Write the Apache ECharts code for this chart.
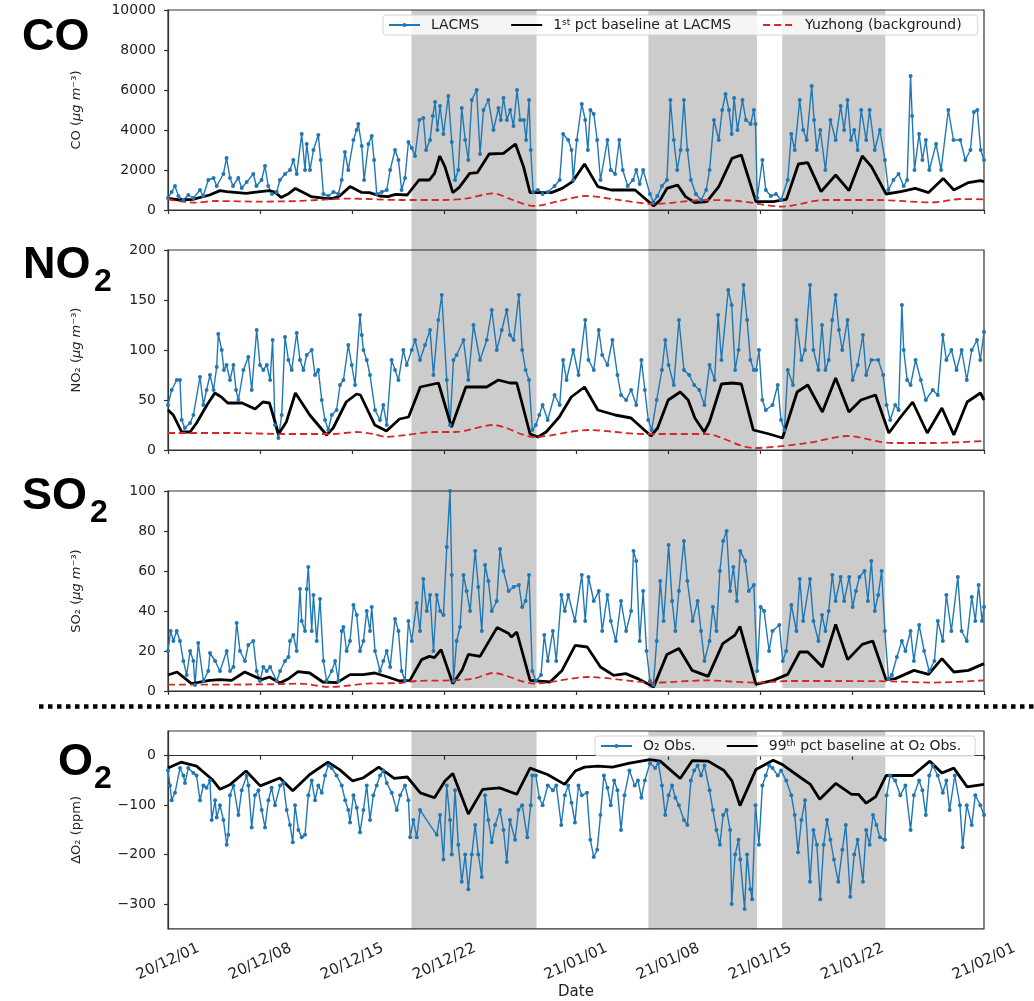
<!DOCTYPE html>
<html>
<head>
<meta charset="utf-8">
<script src="https://cdn.jsdelivr.net/npm/echarts@6/dist/echarts.min.js"></script>
<style>
  html, body { margin: 0; padding: 0; background: #fff; }
  #chart { width: 1034px; height: 1001px; }
</style>
</head>
<body>
<div id="chart"></div>
<script>
// Time is expressed in days since 2020-12-01 00:00 (UTC).
const START = Date.UTC(2020, 11, 1);
const tickDates = ['2020-12-01', '2020-12-08', '2020-12-15', '2020-12-22',
  '2021-01-01', '2021-01-08', '2021-01-15', '2021-01-22', '2021-02-01'];
const shadedPeriods = [
  ['2020-12-19T12:00Z', '2020-12-29T00:00Z'],
  ['2021-01-06T12:00Z', '2021-01-14T18:00Z'],
  ['2021-01-16T16:00Z', '2021-01-24T12:00Z']
];

// ---- CO (ug m-3) ----
const coObs = [[0,600],[0.28,900],[0.53,1200],[0.79,700],[1.17,500],[1.54,750],[1.93,600],[2.43,1000],[2.67,700],[3.06,1500],[3.46,1600],[3.7,1200],[4.21,1800],[4.45,2600],[4.71,1600],[4.94,1200],[5.34,1600],[5.6,1100],[5.98,1400],[6.48,1800],[6.72,1200],[7.11,1500],[7.37,2200],[7.61,1200],[7.9,800],[8.26,900],[8.5,1500],[8.89,1800],[9.27,2000],[9.52,2500],[9.78,1800],[10.16,3800],[10.41,2000],[10.54,3300],[10.79,2000],[11.05,3000],[11.42,3750],[11.6,2500],[11.81,800],[12.18,700],[12.57,900],[12.94,800],[13.2,1500],[13.44,2900],[13.7,2000],[14.09,3500],[14.33,4000],[14.46,4300],[14.72,3200],[14.9,1500],[15.23,3300],[15.48,3700],[15.66,2500],[15.86,800],[16.24,900],[16.62,1000],[16.88,2000],[17.25,3000],[17.51,2500],[17.75,1000],[18.01,1600],[18.27,3400],[18.52,3100],[18.77,2700],[19.1,4500],[19.4,4600],[19.61,3000],[19.91,3500],[20.12,4700],[20.29,5400],[20.47,4000],[20.67,5200],[20.93,3800],[21.3,5700],[21.56,3400],[21.81,1500],[22.06,2000],[22.32,5100],[22.58,3500],[22.82,2500],[23.08,5500],[23.45,6000],[23.71,2800],[23.97,5000],[24.34,5500],[24.73,4000],[25.11,5100],[25.29,4500],[25.49,5600],[25.75,4500],[26.0,5000],[26.25,4200],[26.52,6000],[26.76,4500],[27.04,4500],[27.21,3500],[27.43,5500],[27.56,3000],[27.75,900],[28.1,1000],[28.46,800],[28.86,900],[29.37,1200],[29.76,1500],[30.02,3800],[30.41,3500],[30.66,3000],[30.79,1500],[31.06,3500],[31.44,5300],[31.7,4500],[31.9,3000],[32.09,5000],[32.35,4800],[32.61,3500],[32.86,1500],[33.39,3500],[33.64,2000],[33.97,1800],[34.29,3500],[34.55,2000],[34.93,1200],[35.33,1500],[35.58,2000],[35.84,1300],[36.1,2000],[36.62,800],[36.88,400],[37.18,700],[37.53,1200],[37.91,1500],[38.17,5500],[38.43,3500],[38.69,2000],[38.95,3000],[39.2,5500],[39.46,3000],[39.73,1500],[40.11,800],[40.5,500],[40.89,1000],[41.15,2000],[41.48,4500],[41.85,3500],[42.11,5000],[42.36,5800],[42.62,5000],[42.83,3800],[43.01,5600],[43.27,4000],[43.65,5500],[43.91,4500],[44.27,4300],[44.51,5000],[44.64,4300],[44.77,600],[45.16,2500],[45.42,1000],[45.8,700],[46.2,800],[46.58,500],[47.09,1500],[47.36,3800],[47.62,3000],[48.0,5500],[48.26,4000],[48.53,3500],[48.91,6200],[49.09,4500],[49.3,3000],[49.56,4000],[49.95,2000],[50.33,4500],[50.73,3500],[51.11,5200],[51.37,4000],[51.63,5500],[51.89,3500],[52.14,4000],[52.4,3000],[52.67,5000],[53.05,3500],[53.31,5000],[53.7,3000],[54.09,4000],[54.47,2500],[54.74,1000],[55.12,1500],[55.51,1800],[55.9,1200],[56.16,1500],[56.42,6700],[56.54,4700],[56.72,2000],[57.07,3800],[57.32,2500],[57.58,3500],[57.84,2000],[58.36,3300],[58.74,2000],[59.29,5000],[59.68,3500],[60.2,3500],[60.58,2500],[60.97,3000],[61.23,4900],[61.49,5000],[61.75,3000],[62.0,2500]];
const coBase = [[0,580],[0.89,500],[1.88,530],[3.16,750],[3.95,970],[4.45,920],[5.93,830],[7.01,920],[7.71,970],[8.1,900],[8.6,630],[9.19,830],[9.68,1080],[10.28,870],[10.87,670],[11.95,580],[12.55,580],[13.04,700],[13.83,1170],[14.72,880],[15.31,870],[16.1,700],[16.7,670],[17.29,780],[18.18,750],[19.07,1500],[19.86,1500],[20.25,1830],[20.65,2700],[21.04,2170],[21.64,870],[22.13,1130],[22.92,1830],[23.51,1870],[24.4,2800],[25.49,2830],[26.4,3300],[27.01,2170],[27.51,870],[29.13,870],[29.94,1080],[30.74,1420],[31.65,2300],[32.66,1170],[33.67,1000],[35.49,1000],[36.9,200],[37.4,500],[37.91,1080],[38.72,1250],[39.32,670],[40.03,370],[40.94,420],[41.85,1170],[42.85,2580],[43.56,2750],[44.67,420],[45.98,420],[46.99,530],[47.9,2300],[48.61,2370],[49.62,920],[50.73,1750],[51.74,970],[52.75,2700],[53.45,2170],[54.56,800],[55.67,920],[56.78,1080],[57.79,870],[58.9,1580],[59.71,1000],[60.82,1370],[61.73,1470],[62,1420]];
const coBg = [[0,530],[1.98,370],[3.66,450],[6.92,420],[9.88,450],[13.83,570],[15.12,550],[17.59,500],[20.95,500],[22.72,580],[24.7,830],[26.2,500],[27.82,200],[29.73,450],[31.75,700],[34.28,500],[36.9,300],[40.84,500],[43.36,450],[46.69,170],[49.82,500],[53.76,500],[58.1,380],[60.22,550],[62,530]];

// ---- NO2 (ug m-3) ----
const no2Obs = [[0,45],[0.28,60],[0.66,70],[0.91,70],[1.04,30],[1.28,22],[1.68,27],[1.93,35],[2.43,73],[2.69,45],[2.93,60],[3.19,75],[3.46,60],[3.7,83],[3.82,116],[4.08,100],[4.25,80],[4.45,85],[4.71,70],[4.97,85],[5.17,60],[5.35,50],[5.73,80],[6.1,93],[6.36,60],[6.74,120],[6.99,85],[7.24,80],[7.51,85],[7.76,70],[7.95,110],[8.13,25],[8.39,12],[8.64,35],[8.89,113],[9.15,90],[9.4,80],[9.78,117],[10.03,90],[10.29,80],[10.54,95],[10.92,100],[11.17,75],[11.42,80],[11.68,50],[11.93,30],[12.18,20],[12.44,35],[12.81,40],[13.07,65],[13.33,70],[13.7,105],[13.96,85],[14.21,65],[14.59,135],[14.72,115],[14.85,100],[15.1,90],[15.35,75],[15.73,40],[16.11,30],[16.36,45],[16.62,25],[16.99,90],[17.25,80],[17.51,70],[17.88,100],[18.14,85],[18.52,100],[18.77,110],[19.15,90],[19.53,105],[19.91,120],[20.17,75],[20.54,130],[20.8,155],[21.18,70],[21.43,25],[21.69,90],[21.93,95],[22.45,110],[22.82,70],[23.21,125],[23.71,90],[24.22,110],[24.6,140],[24.98,100],[25.36,120],[25.74,140],[25.98,115],[26.26,110],[26.66,155],[26.91,100],[27.17,80],[27.43,70],[27.68,20],[27.95,25],[28.21,35],[28.46,45],[28.85,30],[29.37,55],[29.76,45],[30.02,90],[30.28,70],[30.79,100],[31.19,75],[31.7,130],[31.95,90],[32.35,80],[32.73,120],[32.99,95],[33.39,85],[33.77,110],[34.15,75],[34.42,55],[34.81,50],[35.19,60],[35.58,45],[35.97,90],[36.23,60],[36.49,30],[36.75,20],[37.13,50],[37.53,80],[37.78,110],[38.04,85],[38.43,65],[38.82,130],[39.2,80],[39.6,75],[39.98,65],[40.37,60],[40.76,45],[41.15,85],[41.53,70],[41.8,135],[42.05,90],[42.57,160],[42.83,145],[43.09,80],[43.35,100],[43.73,165],[44.0,130],[44.25,90],[44.51,80],[44.69,80],[44.9,100],[45.16,50],[45.42,40],[45.93,45],[46.33,65],[46.58,30],[46.84,20],[47.09,80],[47.49,65],[47.75,130],[48.13,90],[48.4,100],[48.78,165],[49.04,100],[49.42,80],[49.69,125],[49.95,80],[50.2,90],[50.47,130],[50.72,155],[50.98,120],[51.23,100],[51.63,130],[52.02,70],[52.4,85],[52.8,115],[53.05,75],[53.44,90],[53.96,90],[54.34,75],[54.6,45],[54.87,30],[55.25,45],[55.51,40],[55.76,145],[55.9,100],[56.16,70],[56.42,65],[56.8,90],[57.2,70],[57.58,50],[58.1,60],[58.49,55],[58.87,115],[59.14,90],[59.52,100],[59.91,80],[60.3,100],[60.69,70],[61.07,100],[61.47,110],[61.72,90],[62.0,118]];
const no2Base = [[0,40],[0.4,35],[1.04,18],[1.68,18],[2.17,27],[2.96,45],[3.56,57],[4.05,53],[4.54,47],[5.63,47],[6.62,41],[7.21,48],[7.71,47],[8.4,16],[8.99,28],[9.68,57],[10.77,35],[12.05,15],[12.55,22],[13.54,48],[14.33,56],[14.62,55],[15.71,25],[16.6,19],[17.59,31],[18.28,33],[19.17,63],[20.55,67],[21.54,23],[22.63,63],[24.21,63],[25.1,70],[25.98,67],[26.5,67],[27.51,16],[28.12,13],[28.73,18],[29.73,33],[30.64,53],[31.65,63],[32.66,40],[33.97,35],[35.18,32],[36.7,14],[37.2,22],[38.01,50],[38.92,58],[39.52,50],[40.03,32],[40.74,18],[41.14,28],[42.05,66],[42.85,67],[43.56,66],[44.47,20],[45.68,16],[46.69,12],[47.8,58],[48.61,65],[49.72,38],[50.73,72],[51.74,38],[52.65,50],[53.76,55],[54.77,17],[55.67,33],[56.58,48],[57.69,17],[58.8,42],[59.71,15],[60.72,48],[61.73,57],[62,50]];
const no2Bg = [[0,17],[4.94,17],[8.79,16],[12.55,16],[14.33,18],[15.61,16],[16.6,13],[18.08,15],[20.16,18],[21.83,18],[24.7,25],[27.82,13],[31.95,20],[36.09,16],[40.84,16],[44.47,2],[48.61,7],[51.64,14],[54.97,7],[58.1,7],[62,9]];

// ---- SO2 (ug m-3) ----
const so2Obs = [[0,20],[0.2,30],[0.41,25],[0.66,30],[0.91,25],[1.17,15],[1.42,8],[1.68,20],[1.93,15],[2.05,3],[2.3,24],[2.69,5],[3.06,10],[3.19,19],[3.58,15],[3.95,10],[4.46,20],[4.71,10],[4.97,12],[5.22,34],[5.47,20],[5.85,15],[6.1,23],[6.48,25],[6.74,10],[6.99,5],[7.24,12],[7.5,10],[7.76,12],[8.26,5],[8.52,10],[8.89,15],[9.15,17],[9.27,25],[9.52,28],[9.78,20],[10.03,51],[10.16,35],[10.41,30],[10.54,51],[10.66,62],[10.92,30],[11.05,48],[11.3,25],[11.55,46],[11.81,15],[12.05,5],[12.44,10],[12.7,15],[12.94,5],[13.2,30],[13.33,32],[13.57,20],[13.83,25],[14.09,43],[14.34,38],[14.59,20],[14.85,25],[15.1,40],[15.35,30],[15.48,42],[15.73,20],[16.11,10],[16.36,15],[16.62,20],[16.88,12],[17.25,36],[17.51,30],[17.75,10],[18.01,5],[18.27,35],[18.52,25],[18.9,44],[19.15,30],[19.4,56],[19.66,40],[19.91,48],[20.17,20],[20.42,48],[20.67,40],[20.93,38],[21.18,72],[21.43,100],[21.56,58],[21.69,5],[21.93,25],[22.19,32],[22.45,58],[22.69,50],[22.95,40],[23.34,70],[23.58,52],[23.84,30],[24.09,63],[24.34,55],[24.6,40],[24.98,45],[25.23,71],[25.49,60],[25.88,50],[26.26,52],[26.66,53],[26.91,42],[27.17,45],[27.43,58],[27.68,10],[27.95,5],[28.34,8],[28.59,28],[28.86,15],[29.24,30],[29.5,15],[29.89,48],[30.15,40],[30.41,48],[30.92,35],[31.44,58],[31.7,35],[31.95,57],[32.35,45],[32.73,50],[32.99,30],[33.39,48],[33.64,35],[34.03,25],[34.42,45],[34.81,30],[35.19,40],[35.37,70],[35.58,65],[35.84,25],[36.1,50],[36.36,20],[36.62,5],[36.88,3],[37.13,25],[37.4,55],[37.66,35],[38.04,73],[38.3,45],[38.55,30],[38.82,50],[39.2,75],[39.46,55],[39.86,35],[40.24,45],[40.5,30],[40.76,15],[41.15,25],[41.4,42],[41.67,30],[41.93,60],[42.18,75],[42.44,80],[42.71,50],[42.96,62],[43.22,45],[43.48,70],[43.86,65],[44.13,50],[44.51,53],[44.77,10],[45.03,42],[45.29,40],[45.67,20],[45.93,30],[46.45,33],[46.71,15],[46.97,20],[47.36,43],[47.75,30],[48.0,56],[48.26,35],[48.78,56],[49.04,35],[49.42,25],[49.69,38],[49.95,30],[50.2,40],[50.47,58],[50.72,45],[51.11,57],[51.37,45],[51.76,57],[52.02,42],[52.27,50],[52.54,57],[52.92,60],[53.18,45],[53.44,65],[53.7,40],[53.96,48],[54.22,60],[54.47,30],[54.74,6],[55.0,8],[55.38,17],[55.76,25],[56.03,20],[56.42,30],[56.67,15],[57.07,33],[57.45,20],[57.84,10],[58.23,15],[58.49,35],[58.87,25],[59.14,48],[59.52,30],[60.01,57],[60.3,30],[60.69,25],[61.07,47],[61.34,35],[61.59,53],[61.85,35],[62.0,42]];
const so2Base = [[0,8],[0.69,9.5],[1.78,3.7],[3.16,5.3],[3.95,5.7],[4.84,5.3],[5.83,9.5],[7.11,5.7],[7.71,7],[8.5,4],[9.19,6.3],[9.88,9.7],[10.77,9],[11.76,4.5],[12.84,4.2],[13.83,8.2],[14.82,8.2],[15.71,9],[16.7,7],[17.59,5],[18.38,5.3],[19.27,15.7],[19.86,17.3],[20.25,16.7],[20.75,20.7],[21.64,3.7],[22.33,10.3],[22.82,18.3],[23.71,17.3],[25.0,31.7],[25.89,28.7],[26.1,27],[26.5,29.5],[27.51,5.3],[29.03,4.5],[29.94,10.3],[30.94,22.8],[31.85,22],[32.86,12],[33.87,7.8],[34.78,8.7],[35.69,6.2],[36.9,2],[37.91,18.3],[38.82,21.2],[39.83,10.3],[41.04,7.3],[42.15,23.7],[43.06,27.8],[43.46,32.3],[44.67,3.3],[45.98,5.3],[47.09,8.3],[48.0,19.5],[48.61,19.5],[49.72,12],[50.73,33.3],[51.64,15.7],[52.75,23.3],[53.55,25],[54.56,5.7],[55.27,6.2],[56.68,10.3],[57.79,8.3],[58.8,16.2],[59.71,9.5],[60.82,10.3],[62,13.7]];
const so2Bg = [[0,3.2],[7.51,3.3],[9.98,3.7],[12.35,2],[15.12,3.7],[17.59,4],[18.87,5],[21.44,5.3],[23.22,6.2],[24.7,9],[27.82,3.7],[31.95,7],[36.9,4.2],[40.84,5.3],[44.67,4.2],[47.2,5],[51.13,5],[54.97,4.8],[58.1,4.2],[62,5.3]];

// ---- delta O2 (ppm) ----
const o2Obs = [[0,-30],[0.15,-60],[0.28,-90],[0.53,-75],[0.91,-25],[1.17,-40],[1.29,-55],[1.54,-25],[1.93,-35],[2.17,-40],[2.43,-90],[2.69,-60],[2.93,-65],[3.19,-50],[3.32,-130],[3.58,-90],[3.7,-125],[3.95,-100],[4.21,-130],[4.46,-180],[4.58,-160],[4.71,-80],[4.97,-60],[5.35,-120],[5.6,-70],[5.98,-40],[6.11,-60],[6.36,-145],[6.61,-80],[6.87,-70],[7.12,-110],[7.37,-145],[7.63,-90],[7.87,-65],[8.13,-100],[8.52,-60],[8.76,-55],[9.02,-110],[9.27,-140],[9.48,-175],[9.65,-100],[9.91,-150],[10.16,-165],[10.41,-160],[10.66,-80],[10.92,-50],[11.17,-90],[11.42,-60],[11.68,-75],[11.93,-40],[12.18,-20],[12.44,-25],[12.81,-40],[13.2,-60],[13.46,-90],[13.7,-110],[13.83,-135],[14.09,-80],[14.34,-105],[14.59,-155],[14.85,-110],[15.1,-60],[15.35,-130],[15.6,-80],[15.86,-60],[16.11,-40],[16.36,-30],[16.62,-55],[17.0,-75],[17.38,-110],[17.64,-80],[18.01,-60],[18.27,-90],[18.4,-165],[18.64,-130],[18.9,-165],[19.15,-110],[20.42,-160],[20.67,-120],[20.93,-210],[21.18,-60],[21.43,-130],[21.56,-200],[21.81,-70],[22.06,-180],[22.32,-255],[22.58,-200],[22.82,-270],[23.08,-200],[23.34,-140],[23.58,-200],[23.84,-245],[24.09,-80],[24.34,-130],[24.6,-175],[24.85,-140],[25.23,-110],[25.49,-150],[25.74,-215],[25.98,-130],[26.37,-170],[26.63,-110],[26.91,-100],[27.3,-165],[27.56,-100],[27.68,-40],[27.95,-40],[28.21,-85],[28.46,-100],[28.86,-60],[29.24,-70],[29.5,-60],[29.88,-140],[30.15,-80],[30.41,-60],[30.66,-95],[30.92,-135],[31.19,-60],[31.44,-80],[31.83,-75],[32.09,-170],[32.35,-205],[32.61,-190],[32.86,-120],[33.12,-40],[33.39,-65],[33.64,-100],[33.9,-50],[34.15,-70],[34.42,-150],[34.68,-80],[35.06,-30],[35.46,-60],[35.71,-50],[35.97,-85],[36.23,-50],[36.62,-15],[37.01,-25],[37.26,-15],[37.53,-60],[37.78,-120],[38.04,-80],[38.3,-60],[38.55,-85],[38.82,-100],[39.2,-130],[39.46,-140],[39.73,-50],[39.98,-30],[40.24,-20],[40.5,-40],[40.76,-20],[41.15,-70],[41.4,-110],[41.67,-150],[41.93,-180],[42.18,-120],[42.44,-110],[42.71,-150],[42.83,-300],[43.09,-200],[43.35,-170],[43.48,-210],[43.81,-310],[44.0,-200],[44.25,-270],[44.38,-290],[44.64,-100],[44.9,-180],[45.16,-60],[45.42,-40],[45.67,-20],[45.93,-25],[46.33,-40],[46.58,-30],[46.97,-50],[47.36,-80],[47.62,-120],[47.87,-195],[48.13,-130],[48.4,-90],[48.78,-255],[49.04,-150],[49.3,-180],[49.56,-290],[49.82,-180],[50.07,-130],[50.33,-170],[50.6,-210],[50.93,-255],[51.24,-190],[51.5,-140],[51.84,-285],[52.14,-200],[52.4,-170],[52.8,-255],[53.05,-150],[53.31,-180],[53.57,-120],[53.83,-140],[54.09,-165],[54.47,-170],[54.6,-80],[54.87,-40],[55.25,-50],[55.64,-80],[56.03,-60],[56.42,-150],[56.67,-80],[57.07,-50],[57.32,-70],[57.58,-120],[57.84,-40],[58.1,-20],[58.49,-40],[58.87,-75],[59.14,-50],[59.39,-110],[59.78,-40],[60.17,-100],[60.38,-185],[60.69,-100],[61.07,-140],[61.34,-80],[61.72,-100],[62.0,-120]];
const o2Base = [[0,-25],[0.99,-13],[2.17,-21],[3.36,-48],[3.95,-68],[4.74,-58],[5.93,-31],[7.01,-61],[8.5,-45],[9.48,-71],[10.77,-38],[12.15,-13],[13.04,-28],[14.03,-51],[14.82,-45],[16.01,-23],[17.19,-46],[18.18,-43],[19.17,-75],[20.25,-85],[21.04,-51],[21.64,-36],[22.82,-118],[23.91,-68],[25.19,-65],[26.5,-78],[27.51,-25],[28.83,-38],[30.14,-58],[30.94,-31],[31.65,-23],[32.66,-21],[33.77,-23],[35.08,-15],[36.6,-8],[37.4,-11],[38.01,-25],[38.92,-46],[39.83,-10],[41.04,-11],[42.25,-30],[42.85,-51],[43.46,-101],[44.67,-28],[45.98,-9],[46.69,-18],[48.0,-43],[48.81,-58],[49.52,-88],[50.73,-56],[51.94,-78],[52.45,-78],[53.05,-96],[53.76,-83],[54.56,-40],[56.58,-40],[57.89,-11],[58.8,-35],[59.71,-25],[60.72,-63],[62,-58]];

// ---- helpers ----
const DAY = 86400000;
const toDay = s => (Date.parse(s.length === 10 ? s + 'T00:00Z' : s) - START) / DAY;
const tickDays = tickDates.map(toDay);
const shadedDays = shadedPeriods.map(p => [toDay(p[0]), toDay(p[1])]);
const pad = n => (n < 10 ? '0' : '') + n;
const fmtDate = v => {
  const d = new Date(START + v * DAY);
  return pad(d.getUTCFullYear() % 100) + '/' + pad(d.getUTCMonth() + 1) + '/' + pad(d.getUTCDate());
};
const minus = v => String(v).replace('-', '\u2212');

const FONT = 'DejaVu Sans';
const AXIS_COLOR = '#333';
const TEXT_COLOR = '#222';
const BLUE = '#1f77b4';
const X_MAX = 62;

const plotGrids = [
  { top: 10, height: 200 },
  { top: 250, height: 200 },
  { top: 491, height: 200 },
  { top: 731, height: 199 }
];

const grid = plotGrids.map(g => ({
  left: 168, right: 50, top: g.top, height: g.height,
  show: true, borderColor: AXIS_COLOR, borderWidth: 1.2, backgroundColor: 'transparent'
}));
// overlay grid spanning the three concentration panels (for the shaded periods)
grid.push({ left: 168, right: 50, top: 10, height: 678, show: false });

const xAxis = plotGrids.map((g, i) => ({
  type: 'value', gridIndex: i, min: 0, max: X_MAX,
  axisLine: { show: true, lineStyle: { color: AXIS_COLOR, width: 1.2 } },
  axisTick: { show: true, length: 4, customValues: tickDays, lineStyle: { color: AXIS_COLOR, width: 1.2 } },
  axisLabel: {
    show: i === 3, customValues: tickDays, formatter: fmtDate,
    rotate: 25, align: 'center', verticalAlign: 'middle', margin: 33,
    fontFamily: FONT, fontSize: 15, color: TEXT_COLOR
  },
  splitLine: { show: false },
  name: i === 3 ? 'Date' : '',
  nameLocation: 'middle', nameGap: 56,
  nameTextStyle: { fontFamily: FONT, fontSize: 15, color: TEXT_COLOR }
}));
xAxis.push({ type: 'value', gridIndex: 4, min: 0, max: X_MAX, show: false });

const unitRich = {
  i: { fontStyle: 'italic', fontFamily: FONT, fontSize: 13, color: TEXT_COLOR }
};
const yDefs = [
  { min: 0, max: 10000, interval: 2000, name: 'CO ({i|μg m}⁻³)' },
  { min: 0, max: 200, interval: 50, name: 'NO₂ ({i|μg m}⁻³)' },
  { min: 0, max: 100, interval: 20, name: 'SO₂ ({i|μg m}⁻³)' },
  { min: -350, max: 50, custom: [-300, -200, -100, 0], name: 'ΔO₂ (ppm)' }
];
const yAxis = yDefs.map((d, i) => {
  const ax = {
    type: 'value', gridIndex: i, min: d.min, max: d.max,
    axisLine: { show: true, lineStyle: { color: AXIS_COLOR, width: 1.2 } },
    axisTick: { show: true, length: 4, lineStyle: { color: AXIS_COLOR, width: 1.2 } },
    axisLabel: { fontFamily: FONT, fontSize: 14, color: TEXT_COLOR, margin: 12, formatter: minus },
    splitLine: { show: false },
    name: d.name, nameLocation: 'middle', nameGap: 85, nameRotate: 90,
    nameTextStyle: { fontFamily: FONT, fontSize: 13, color: TEXT_COLOR, rich: unitRich }
  };
  if (d.custom) {
    ax.axisTick.customValues = d.custom;
    ax.axisLabel.customValues = d.custom;
  } else {
    ax.interval = d.interval;
  }
  return ax;
});
yAxis.push({ type: 'value', gridIndex: 4, min: 0, max: 1, show: false });

const obsSeries = (name, data, i) => ({
  name, type: 'line', data, xAxisIndex: i, yAxisIndex: i,
  symbol: 'circle', symbolSize: 4, showSymbol: true,
  lineStyle: { color: BLUE, width: 1.4 }, itemStyle: { color: BLUE },
  z: 2, silent: true
});
const baseSeries = (name, data, i) => ({
  name, type: 'line', data, xAxisIndex: i, yAxisIndex: i,
  symbol: 'none', lineStyle: { color: '#000', width: 2.8 }, itemStyle: { color: '#000' },
  z: 2, silent: true
});
const bgSeries = (name, data, i) => ({
  name, type: 'line', data, xAxisIndex: i, yAxisIndex: i, smooth: 0.3,
  symbol: 'none', lineStyle: { color: '#d62728', width: 1.8, type: [7, 4] }, itemStyle: { color: '#d62728' },
  z: 2, silent: true
});
const shadeSeries = i => ({
  type: 'line', data: [], xAxisIndex: i, yAxisIndex: i, z: 3, silent: true,
  markArea: {
    silent: true, itemStyle: { color: 'rgba(0,0,0,0.2)' },
    data: shadedDays.map(p => [{ xAxis: p[0] }, { xAxis: p[1] }])
  }
});

const series = [
  obsSeries('LACMS', coObs, 0),
  baseSeries('1st pct baseline at LACMS', coBase, 0),
  bgSeries('Yuzhong (background)', coBg, 0),
  obsSeries('NO₂ LACMS', no2Obs, 1),
  baseSeries('NO₂ baseline', no2Base, 1),
  bgSeries('NO₂ Yuzhong', no2Bg, 1),
  obsSeries('SO₂ LACMS', so2Obs, 2),
  baseSeries('SO₂ baseline', so2Base, 2),
  bgSeries('SO₂ Yuzhong', so2Bg, 2),
  obsSeries('O₂ Obs.', o2Obs, 3),
  baseSeries('99th pct baseline at O₂ Obs.', o2Base, 3),
  shadeSeries(4),
  shadeSeries(3)
];

// line-only legend entries: hide the marker that the legend adds by default
const lineOnly = name => ({ name, itemStyle: { opacity: 0 } });
const legendCommon = {
  orient: 'horizontal', itemWidth: 31, itemHeight: 5, itemGap: 31,
  backgroundColor: 'rgba(255,255,255,0.8)', borderColor: '#d4d4d4', borderWidth: 1, borderRadius: 3,
  z: 8, selectedMode: false,
  textStyle: {
    fontFamily: FONT, fontSize: 14, color: TEXT_COLOR, padding: [0, 0, 0, 6],
    rich: { sup: { fontFamily: FONT, fontSize: 9, verticalAlign: 'top', color: TEXT_COLOR } }
  }
};
const legend = [
  Object.assign({}, legendCommon, {
    left: 383, top: 15, padding: [3, 16, 3, 5],
    data: ['LACMS', lineOnly('1st pct baseline at LACMS'), lineOnly('Yuzhong (background)')],
    formatter: n => n.replace(/^1st/, '1{sup|st}')
  }),
  Object.assign({}, legendCommon, {
    left: 595, top: 736, padding: [3, 14, 3, 5], itemGap: 30,
    data: ['O₂ Obs.', lineOnly('99th pct baseline at O₂ Obs.')],
    formatter: n => n.replace(/^99th/, '99{sup|th}')
  })
];

const bigFont = 'bold 45px "Liberation Sans", Arial, sans-serif';
const subFont = 'bold 32px "Liberation Sans", Arial, sans-serif';
const panelLabel = (text, x, y, sub, sx, sy) => {
  const items = [{ type: 'text', x, y, style: { text, font: bigFont, fill: '#000', verticalAlign: 'middle' } }];
  if (sub) items.push({ type: 'text', x: sx, y: sy, style: { text: sub, font: subFont, fill: '#000', verticalAlign: 'middle' } });
  return items;
};

const graphic = [].concat(
  panelLabel('CO', 22, 38),
  panelLabel('NO', 23, 266, '2', 94, 282),
  panelLabel('SO', 22, 497, '2', 90, 513),
  panelLabel('O', 58, 763, '2', 94, 779),
  [{
    type: 'line', shape: { x1: 39, y1: 706.5, x2: 1034, y2: 706.5 },
    style: { stroke: '#000', lineWidth: 4.5, lineDash: [4.5, 4.5] }
  }]
);

const chart = echarts.init(document.getElementById('chart'), null, { renderer: 'canvas' });
chart.setOption({
  animation: false,
  backgroundColor: '#fff',
  grid, xAxis, yAxis, series, legend, graphic
});
</script>
</body>
</html>
